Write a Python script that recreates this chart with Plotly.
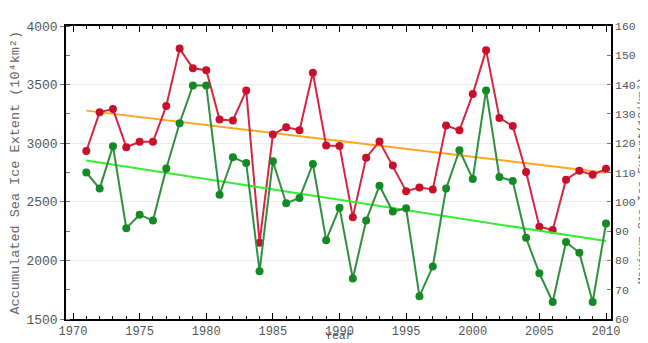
import plotly.graph_objects as go

years = list(range(1971, 2011))

# Red series (left axis, 10^4 km^2)
red_vals = [2933, 3265, 3291, 2966, 3012, 3012, 3318, 3807, 3639, 3623,
            3202, 3194, 3449, 2151, 3074, 3137, 3110, 3601, 2980, 2976,
            2369, 2876, 3015, 2809, 2591, 2621, 2605, 3150, 3110, 3419,
            3794, 3216, 3147, 2754, 2287, 2260, 2689, 2765, 2730, 2781]

# Green series (right axis, 10^4 km^2)
green_vals = [110.0, 104.5, 119.0, 91.0, 95.6, 93.6, 111.4, 126.8, 139.7, 139.7,
              102.4, 115.2, 113.2, 76.3, 113.8, 99.5, 101.3, 112.9, 86.9, 98.0,
              73.8, 93.6, 105.5, 96.7, 97.8, 67.8, 77.9, 104.5, 117.6, 107.8,
              138.0, 108.5, 107.1, 87.7, 75.6, 65.8, 86.3, 82.6, 65.8, 92.6]

trend_years = [1971, 2010]
red_trend = [3278, 2748]
green_trend = [114.1, 86.6]

x_ticks = [1970, 1975, 1980, 1985, 1990, 1995, 2000, 2005, 2010]
left_ticks = [1500, 2000, 2500, 3000, 3500, 4000]
right_ticks = [60, 70, 80, 90, 100, 110, 120, 130, 140, 150, 160]

FONT = "Liberation Mono, Courier New, monospace"
TICKCOL = "#555555"

fig = go.Figure()
fig.add_trace(go.Scatter(x=trend_years, y=red_trend, mode="lines",
                         line=dict(color="#ffa51f", width=2), showlegend=False))
fig.add_trace(go.Scatter(x=trend_years, y=green_trend, mode="lines", yaxis="y2",
                         line=dict(color="#33ee33", width=2), showlegend=False))
fig.add_trace(go.Scatter(x=years, y=green_vals, mode="lines+markers", yaxis="y2",
                         line=dict(color="#2f8f3f", width=2),
                         marker=dict(color="#138a24", size=8), showlegend=False))
fig.add_trace(go.Scatter(x=years, y=red_vals, mode="lines+markers",
                         line=dict(color="#d8253f", width=2),
                         marker=dict(color="#c8102a", size=8), showlegend=False))

fig.update_layout(
    width=648, height=343,
    margin=dict(l=58, r=45, t=13, b=24),
    paper_bgcolor="white", plot_bgcolor="white",
    font=dict(family=FONT, size=13, color=TICKCOL),
    xaxis=dict(range=[1969.475, 2010.375], tickvals=x_ticks,
               ticktext=[str(v) for v in x_ticks],
               showgrid=False, zeroline=False,
               showline=True, linecolor="black", linewidth=1.5, mirror="ticks",
               ticks="inside", ticklen=6, tickcolor="black",
               minor=dict(dtick=1, tick0=1970, ticks="inside", ticklen=3, tickcolor="black"),
               tickfont=dict(family=FONT, size=12, color=TICKCOL)),
    yaxis=dict(range=[1500, 4000], tickvals=left_ticks,
               showgrid=True, gridcolor="#ececec", zeroline=False,
               showline=True, linecolor="black", linewidth=1.5,
               ticks="outside", ticklen=4, tickcolor="#777777",
               minor=dict(dtick=250, tick0=1500, ticks="inside", ticklen=4, tickcolor="#777777"),
               tickfont=dict(family=FONT, size=13, color=TICKCOL)),
    yaxis2=dict(range=[60, 160], tickvals=right_ticks, overlaying="y", side="right",
                showgrid=False, zeroline=False,
                showline=True, linecolor="black", linewidth=1.5,
                ticks="inside", ticklen=4, tickcolor="#777777",
                tickfont=dict(family=FONT, size=11.5, color=TICKCOL)),
    annotations=[
        dict(text="Accumulated Sea Ice Extent (10⁴km²)",
             xref="paper", yref="paper", x=(7 - 58) / 545, y=0.5,
             xanchor="center", yanchor="middle",
             textangle=-90, showarrow=False, font=dict(family=FONT, size=13.5, color="#666666")),
        dict(text="Maximum Sea Ice Extent(10⁴km²)",
             xref="paper", yref="paper", x=1 + (633 - 603) / 545, y=0.47,
             xanchor="center", yanchor="middle",
             textangle=-90, showarrow=False, font=dict(family=FONT, size=11.5, color="#666666")),
        dict(text="Year", xref="paper", yref="paper", x=0.5, y=-(336 - 319) / 306,
             xanchor="center", yanchor="middle", showarrow=False,
             font=dict(family=FONT, size=11.5, color="#555555")),
    ],
)

fig.write_html("out.html")
